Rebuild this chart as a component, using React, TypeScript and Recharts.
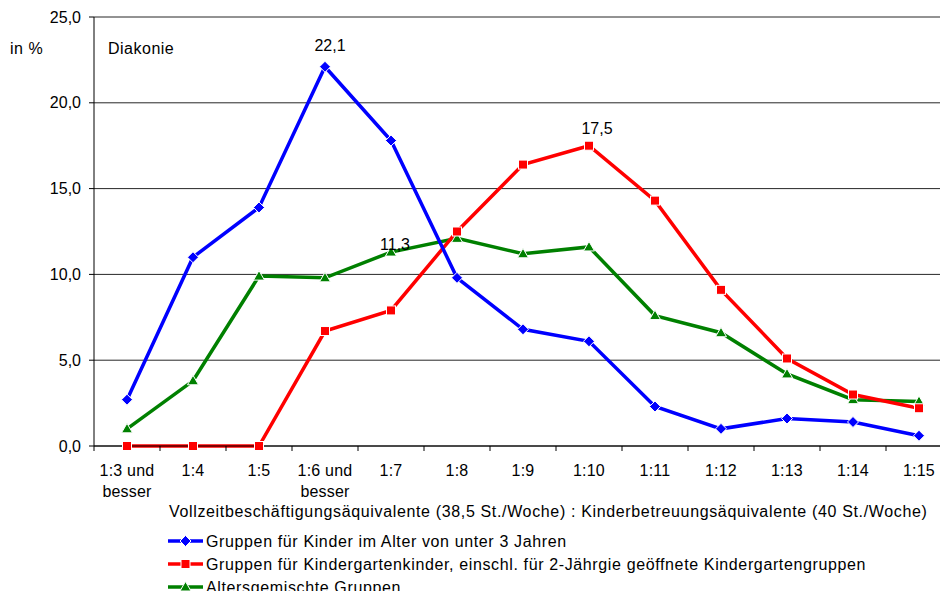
import { LineChart, Line, XAxis, YAxis, CartesianGrid } from 'recharts';

const categories = [
  '1:3 und\nbesser', '1:4', '1:5', '1:6 und\nbesser', '1:7', '1:8', '1:9',
  '1:10', '1:11', '1:12', '1:13', '1:14', '1:15',
];
const unter3 = [2.7, 11.0, 13.9, 22.1, 17.8, 9.8, 6.8, 6.1, 2.3, 1.0, 1.6, 1.4, 0.6];
const kindergarten = [0, 0, 0, 6.7, 7.9, 12.5, 16.4, 17.5, 14.3, 9.1, 5.1, 3.0, 2.2];
const altersgemischt = [1.0, 3.8, 9.9, 9.8, 11.3, 12.1, 11.2, 11.6, 7.6, 6.6, 4.2, 2.7, 2.6];
const yTicks = [0, 5, 10, 15, 20, 25];

const seriesNames = [
  'Gruppen für Kinder im Alter von unter 3 Jahren',
  'Gruppen für Kindergartenkinder, einschl. für 2-Jährgie geöffnete Kindergartengruppen',
  'Altersgemischte Gruppen',
];
const xTitle = 'Vollzeitbeschäftigungsäquivalente (38,5 St./Woche) : Kinderbetreuungsäquivalente (40 St./Woche)';

const data = categories.map((c, i) => ({
  cat: c,
  u3: unter3[i],
  kg: kindergarten[i],
  ag: altersgemischt[i],
}));

const FONT = '"Liberation Sans", Arial, sans-serif';
const fmt = (v: number) => v.toFixed(1).replace('.', ',');

type Shape = 'diamond' | 'square' | 'triangle';

function Marker({ cx, cy, shape, fill }: { cx: number; cy: number; shape: Shape; fill: string }) {
  if (cx == null || cy == null) return null;
  if (shape === 'diamond') {
    const r = 5.5;
    return <path d={`M${cx},${cy - r}L${cx + r},${cy}L${cx},${cy + r}L${cx - r},${cy}Z`} fill={fill} stroke="#fff" strokeWidth={1} />;
  }
  if (shape === 'square') {
    return <rect x={cx - 4.5} y={cy - 4.5} width={9} height={9} fill={fill} stroke="#fff" strokeWidth={1} />;
  }
  return <path d={`M${cx},${cy - 5.5}L${cx + 5.5},${cy + 4}L${cx - 5.5},${cy + 4}Z`} fill={fill} stroke="#fff" strokeWidth={1} />;
}

const makeDot = (shape: Shape, fill: string) => (p: any) => (
  <Marker key={`${shape}-${p.index}`} cx={p.cx} cy={p.cy} shape={shape} fill={fill} />
);

// only one value label per series, nudged like in the original
const makeLabel = (idx: number, dx: number, dy: number) => (p: any) => {
  if (p.index !== idx) return null;
  return (
    <text key={`lbl-${idx}`} x={p.x + dx} y={p.y + dy} textAnchor="middle" fontSize={16} fill="#000" fontFamily={FONT}>
      {fmt(Number(p.value))}
    </text>
  );
};

function XTick(props: any) {
  const { x, y, payload } = props;
  const half = payload.offset ?? 0;
  const lines = String(payload.value).split('\n');
  return (
    <g>
      <line x1={x - half} x2={x - half} y1={y} y2={y + 5} stroke="#000" />
      <text x={x} y={y} textAnchor="middle" fontSize={16} fill="#000" fontFamily={FONT} letterSpacing={0.2}>
        {lines.map((l, i) => (
          <tspan key={i} x={x} y={y + 30 + i * 21}>{l}</tspan>
        ))}
      </text>
    </g>
  );
}

const legendItems: { name: string; color: string; shape: Shape }[] = [
  { name: seriesNames[0], color: '#0000FF', shape: 'diamond' },
  { name: seriesNames[1], color: '#FF0000', shape: 'square' },
  { name: seriesNames[2], color: '#008000', shape: 'triangle' },
];

export default function App() {
  return (
    <div style={{ position: 'absolute', left: 0, top: 0, width: 940, height: 591, overflow: 'hidden', background: '#fff', fontFamily: FONT }}>
      <LineChart width={960} height={591} data={data} margin={{ top: 17, right: 8, left: 0, bottom: 0 }}>
        <CartesianGrid vertical={false} stroke="#000" strokeOpacity={0.85} />
        <XAxis
          dataKey="cat"
          scale="band"
          height={145}
          interval={0}
          tickLine={false}
          tickSize={0}
          tickMargin={0}
          axisLine={{ stroke: '#000' }}
          tick={<XTick />}
        />
        <YAxis
          width={94}
          domain={[0, 25]}
          ticks={yTicks}
          tickFormatter={fmt}
          tickSize={5}
          tickMargin={8}
          axisLine={{ stroke: '#000' }}
          tickLine={{ stroke: '#000' }}
          tick={{ fontSize: 16, fill: '#000', fontFamily: FONT }}
        />
        <Line dataKey="ag" stroke="#008000" strokeWidth={3.5} isAnimationActive={false}
          dot={makeDot('triangle', '#008000')} activeDot={false} label={makeLabel(4, 4, -2)} />
        <Line dataKey="kg" stroke="#FF0000" strokeWidth={3.5} isAnimationActive={false}
          dot={makeDot('square', '#FF0000')} activeDot={false} label={makeLabel(7, 8, -12)} />
        <Line dataKey="u3" stroke="#0000FF" strokeWidth={3.5} isAnimationActive={false}
          dot={makeDot('diamond', '#0000FF')} activeDot={false} label={makeLabel(3, 5, -16)} />
      </LineChart>
      <svg width={940} height={591} style={{ position: 'absolute', left: 0, top: 0, pointerEvents: 'none' }}>
        <g fontFamily={FONT} fontSize={16} fill="#000">
          <text x={10} y={54} letterSpacing={0.5}>in %</text>
          <text x={108} y={54} letterSpacing={0.5}>Diakonie</text>
          <text x={169} y={517} letterSpacing={0.65}>{xTitle}</text>
          {legendItems.map((it, i) => {
            const cy = 541 + i * 23;
            return (
              <g key={it.name}>
                <line x1={168} x2={203} y1={cy} y2={cy} stroke={it.color} strokeWidth={3.5} />
                <Marker cx={185.5} cy={cy} shape={it.shape} fill={it.color} />
                <text x={206} y={cy + 6} letterSpacing={0.63}>{it.name}</text>
              </g>
            );
          })}
        </g>
      </svg>
    </div>
  );
}
